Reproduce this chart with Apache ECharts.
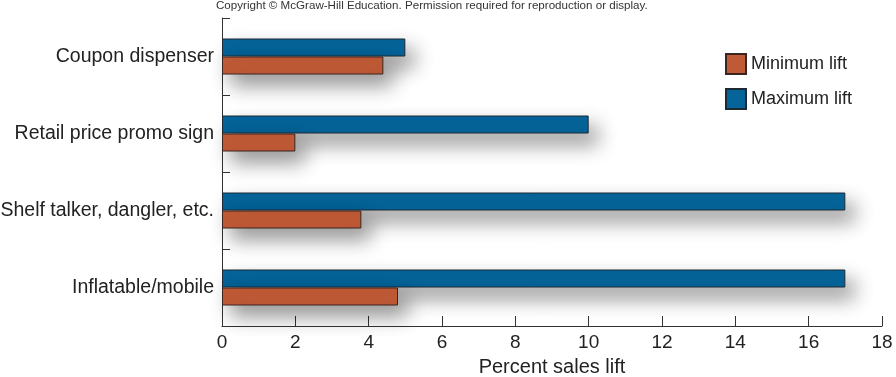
<!DOCTYPE html>
<html>
<head>
<meta charset="utf-8">
<script src="https://cdn.jsdelivr.net/npm/echarts@6/dist/echarts.min.js"></script>
<style>
html,body{margin:0;padding:0;background:#fff;}
#chart{width:896px;height:377px;}
</style>
</head>
<body>
<div id="chart"></div>
<script>
var categories = ['Coupon dispenser', 'Retail price promo sign', 'Shelf talker, dangler, etc.', 'Inflatable/mobile'];
var minimumLift = [4.4, 2, 3.8, 4.8];
var maximumLift = [5, 10, 17, 17];
var xTicks = [0, 2, 4, 6, 8, 10, 12, 14, 16, 18];

var FONT = '"Liberation Sans", Arial, Helvetica, sans-serif';
var chart = echarts.init(document.getElementById('chart'), null, {renderer: 'canvas'});
var shadow = {shadowBlur: 20, shadowOffsetX: 9, shadowOffsetY: 11, shadowColor: 'rgba(0,0,0,0.42)'};

chart.setOption({
  animation: false,
  backgroundColor: '#ffffff',
  textStyle: {fontFamily: FONT},
  graphic: [{
    type: 'text', left: 216, top: 0,
    style: {text: 'Copyright \u00a9 McGraw-Hill Education. Permission required for reproduction or display.',
      fill: '#333', font: '11.6px ' + FONT}
  }],
  grid: {left: 222, right: 14, top: 18, bottom: 51, containLabel: false, outerBoundsMode: 'none'},
  legend: {
    orient: 'vertical', left: 720, top: 48, itemWidth: 20, itemHeight: 20, itemGap: 13,
    data: ['Minimum lift', 'Maximum lift'],
    icon: 'rect',
    textStyle: {fontSize: 18, color: '#222', fontFamily: FONT}
  },
  xAxis: {
    type: 'value', min: 0, max: 18, interval: 2,
    name: 'Percent sales lift', nameLocation: 'middle', nameGap: 31,
    nameTextStyle: {fontSize: 20, color: '#222', fontFamily: FONT},
    axisLine: {show: true, lineStyle: {color: '#333', width: 1}},
    axisTick: {show: true, inside: true, length: 10, lineStyle: {color: '#333'}},
    axisLabel: {fontSize: 19, color: '#222', margin: 7, fontFamily: FONT,
      formatter: function (v) { return xTicks.indexOf(v) >= 0 ? String(v) : ''; }},
    splitLine: {show: false}
  },
  yAxis: {
    type: 'category', data: categories, inverse: true,
    axisLine: {show: true, lineStyle: {color: '#333', width: 1}},
    axisTick: {show: true, inside: true, length: 8, lineStyle: {color: '#333'}},
    axisLabel: {fontSize: 19.5, color: '#222', margin: 8, fontFamily: FONT}
  },
  series: [
    {name: 'Maximum lift', type: 'bar', data: maximumLift, barWidth: 18, barGap: '0%',
      itemStyle: Object.assign({color: '#05649a', borderColor: '#1d2a33', borderWidth: 1}, shadow)},
    {name: 'Minimum lift', type: 'bar', data: minimumLift, barWidth: 18, barGap: '0%',
      itemStyle: Object.assign({color: '#c05a36', borderColor: '#3a2520', borderWidth: 1}, shadow)}
  ]
});
</script>
</body>
</html>
